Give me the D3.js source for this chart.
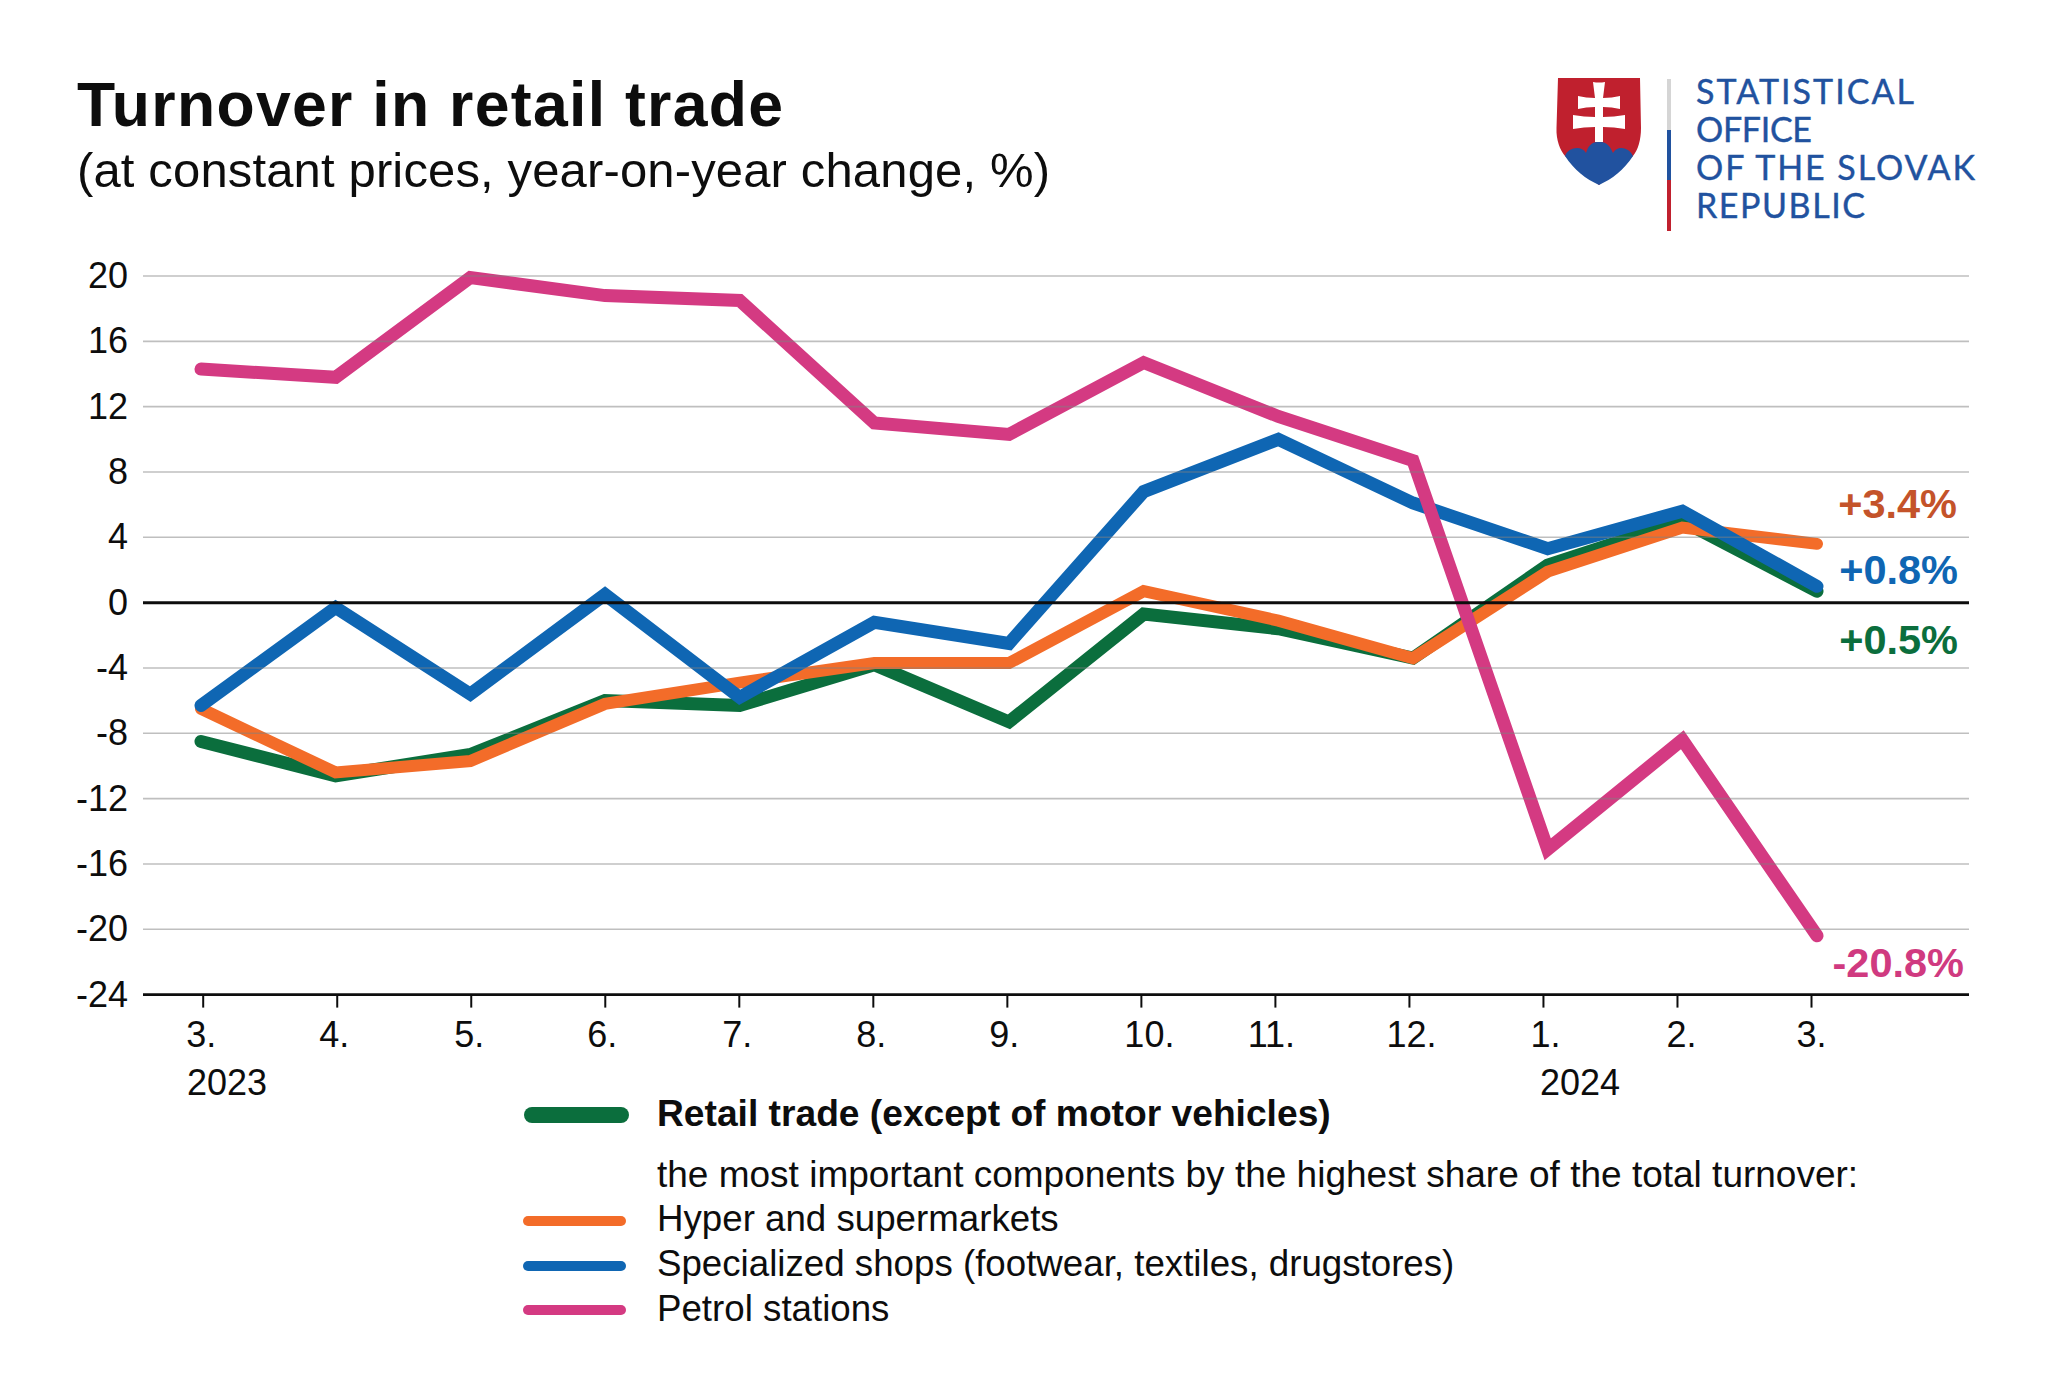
<!DOCTYPE html>
<html><head><meta charset="utf-8">
<script src="https://cdn.jsdelivr.net/npm/d3@7"></script>
<style>html,body{margin:0;background:#fff}svg{display:block}text{font-family:"Liberation Sans",Arial,sans-serif;fill:#0d0d0d}</style>
</head><body><div id="c"></div>
<script>
const months=["3.","4.","5.","6.","7.","8.","9.","10.","11.","12.","1.","2.","3."];
const periods=["m0","m1","m2","m3","m4","m5","m6","m7","m8","m9","m10","m11","m12"];
const yTicks=[20,16,12,8,4,0,-4,-8,-12,-16,-20,-24];
const retail=[-8.5,-10.6,-9.3,-6.0,-6.3,-3.8,-7.3,-0.7,-1.6,-3.4,2.3,5.0,0.7];
const hyper=[-6.5,-10.4,-9.7,-6.2,-4.9,-3.7,-3.7,0.7,-1.1,-3.4,1.9,4.6,3.6];
const shops=[-6.3,-0.3,-5.6,0.5,-5.8,-1.2,-2.5,6.8,10.0,6.1,3.3,5.6,1.0];
const petrol=[14.3,13.8,19.9,18.8,18.5,11.0,10.3,14.7,11.4,8.7,-15.1,-8.4,-20.4];
const seriesNames=["Retail trade (except of motor vehicles)","Hyper and supermarkets","Specialized shops (footwear, textiles, drugstores)","Petrol stations"];
const seriesColors=["#0b6e3d","#f36c29","#0f66b3","#d43a82"];
const endLabels=["+0.5%","+3.4%","+0.8%","-20.8%"];
const labelColors=["#0b6e3d","#c4532a","#0f66b3","#d03a80"];
const note="the most important components by the highest share of the total turnover:";
const logoLines=["STATISTICAL","OFFICE","OF THE SLOVAK","REPUBLIC"];

const svg=d3.select("#c").append("svg").attr("width",2048).attr("height",1375);
const x=d3.scalePoint().domain(periods).range([201,1817]);
const xTick=d3.scalePoint().domain(periods).range([202.7,1811]);
const y=d3.scaleLinear().domain([-24,20]).range([994.6,276]);
const L=143,R=1969;
const monthDx=[-2,-3,-2,-3,-2,-2,-3,8,-4,2,2,4,0];

svg.append("text").text("Turnover in retail trade").attr("x",77).attr("y",126)
  .attr("font-size",62.5).attr("font-weight",700).attr("textLength",706);
svg.append("text").text("(at constant prices, year-on-year change, %)").attr("x",77).attr("y",187)
  .attr("font-size",49).attr("textLength",973);

const line=d3.line().x((d,i)=>x(periods[i])).y(d=>y(d));
const widths=[13,12,13,13];
[retail,hyper,shops,petrol].forEach((s,k)=>{
  svg.append("path").datum(s).attr("d",line).attr("fill","none").attr("stroke",seriesColors[k])
   .attr("stroke-width",widths[k]).attr("stroke-linecap","round").attr("stroke-linejoin","miter");
});

const gy=svg.append("g").attr("transform",`translate(146,0)`)
  .call(d3.axisLeft(y).tickValues(yTicks).tickSize(0).tickPadding(18).tickFormat(d=>String(d)));
gy.select(".domain").remove();
gy.selectAll("text").attr("font-size",36).attr("fill","#0d0d0d").style("font-family",'"Liberation Sans"');
svg.append("g").selectAll("line").data(yTicks.filter(d=>d!==0&&d!==-24)).join("line")
  .attr("x1",L).attr("x2",R).attr("y1",d=>y(d)).attr("y2",d=>y(d)).attr("stroke","#808080").attr("stroke-opacity",0.5).attr("stroke-width",1.6);

const gx=svg.append("g").attr("transform",`translate(0,${y(-24)})`)
  .call(d3.axisBottom(xTick).tickSize(13).tickPadding(14).tickFormat((d,i)=>months[i]));
gx.select(".domain").remove();
gx.selectAll("line").attr("stroke","#0d0d0d").attr("stroke-width",2);
gx.selectAll("text").attr("font-size",36).attr("fill","#0d0d0d").style("font-family",'"Liberation Sans"')
  .attr("dx",(d,i)=>monthDx[i]);
svg.append("line").attr("x1",L).attr("x2",R).attr("y1",y(-24)).attr("y2",y(-24)).attr("stroke","#0d0d0d").attr("stroke-width",2.8);
svg.append("text").text("2023").attr("x",187).attr("y",1095).attr("font-size",36);
svg.append("text").text("2024").attr("x",1540).attr("y",1095).attr("font-size",36);
svg.append("line").attr("x1",L).attr("x2",R).attr("y1",y(0)).attr("y2",y(0)).attr("stroke","#0d0d0d").attr("stroke-width",3);

const labelPos=[[1958,654],[1957,518],[1958,584],[1964,977]];
endLabels.forEach((t,k)=>{
  svg.append("text").text(t).attr("x",labelPos[k][0]).attr("y",labelPos[k][1]).attr("text-anchor","end")
   .attr("font-size",41.5).attr("font-weight",700).style("fill",labelColors[k]);
});

const tx=657;
const rows=[[1115,1126,16,0,true,524,629,37.2],[1221,1231,10,1,false,523,626,36.7],[1266,1276,10,2,false,523,626,36.7],[1310,1321,10,3,false,523,626,36.7]];
rows.forEach(([ly,ty,w,k,b,x1,x2,fs])=>{
  svg.append("line").attr("x1",x1+w/2).attr("x2",x2-w/2).attr("y1",ly).attr("y2",ly)
   .attr("stroke",seriesColors[k]).attr("stroke-width",w).attr("stroke-linecap","round");
  svg.append("text").text(seriesNames[k]).attr("x",tx).attr("y",ty).attr("font-size",fs)
   .attr("font-weight",b?700:400);
});
svg.append("text").text(note).attr("x",tx).attr("y",1187).attr("font-size",37);

const lg=svg.append("g").attr("transform","translate(1500,50)");
lg.append("path").attr("fill","#c0202e").attr("d","M58 28H140L141 78C141 90 138 100 133 106L99 135L65 106C60 100 56 90 56.500 78Z");
lg.append("path").attr("fill","#21529f").attr("d","M65 106C68 97 82 95 86 103C89 93 94 92 99 92C104 92 109 93 113 103C117 95 129 97 133 106C124 120 112 129 99 135C86 129 74 120 65 106Z");
lg.append("path").attr("fill","#fff").attr("d","M93 32Q99 33 105 32L103 48Q112 48 120 46V59Q112 57 103 57V67Q114 67 125 65V79Q114 77 103 77V92H95V77Q84 77 73 79V65Q84 67 95 67V57Q86 57 78 59V46Q86 48 95 48Z");
lg.append("rect").attr("x",167).attr("y",29).attr("width",4).attr("height",51).attr("fill","#d5d5d5");
lg.append("rect").attr("x",167).attr("y",80).attr("width",4).attr("height",50).attr("fill","#21529f");
lg.append("rect").attr("x",167).attr("y",130).attr("width",4).attr("height",51).attr("fill","#c0202e");
const logoW=[218,116,279,169];
logoLines.forEach((t,i)=>{
  lg.append("text").text(t).attr("x",196).attr("y",54+i*38).attr("font-size",34)
   .attr("textLength",logoW[i]).style("font-family","Lato").style("fill","#21529f").style("stroke","#21529f").style("stroke-width",0.4);
});
</script></body></html>
